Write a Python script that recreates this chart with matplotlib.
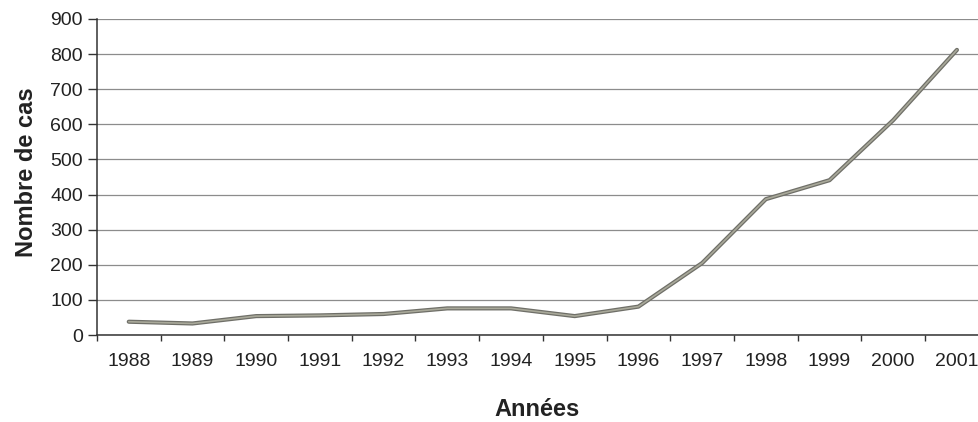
import matplotlib
matplotlib.use('Agg')
import matplotlib.pyplot as plt
from matplotlib.ticker import FixedLocator

plt.rcParams['font.family'] = ['Liberation Sans', 'DejaVu Sans']

# Data
years = ['1988', '1989', '1990', '1991', '1992', '1993', '1994',
         '1995', '1996', '1997', '1998', '1999', '2000', '2001']
cases = [38, 33, 54, 56, 60, 76, 76, 54, 81, 205, 387, 441, 612, 812]
y_ticks = [0, 100, 200, 300, 400, 500, 600, 700, 800, 900]

fig = plt.figure(figsize=(9.79, 4.22), dpi=100)
ax = fig.add_axes([0.099, 0.206, 0.911, 0.749])

x = list(range(len(years)))
# double stroke to mimic the scanned grey line
ax.plot(x, cases, color='#6f6f68', linewidth=3.0, solid_capstyle='round', zorder=3)
ax.plot(x, cases, color='#a9a99a', linewidth=1.2, solid_capstyle='round', zorder=4)

ax.set_xlim(-0.5, len(years) - 0.5)
ax.set_ylim(0, 900)
ax.set_yticks(y_ticks)
ax.yaxis.grid(True, color='#8c8c8c', linewidth=0.9)
ax.set_axisbelow(True)

# category labels at centres, tick marks between categories
ax.xaxis.set_major_locator(FixedLocator([i - 0.5 for i in range(len(years) + 1)]))
ax.xaxis.set_minor_locator(FixedLocator(x))
ax.set_xticklabels([''] * (len(years) + 1))
ax.set_xticklabels(years, minor=True)
ax.tick_params(axis='x', which='major', length=4, width=1, color='#333333', direction='out')
ax.tick_params(axis='x', which='minor', length=0, pad=13, labelsize=14, labelcolor='#222222')
ax.tick_params(axis='y', length=6.5, width=1, color='#333333', labelsize=14,
               labelcolor='#222222', pad=3.6)

for side in ['top', 'right']:
    ax.spines[side].set_visible(False)
ax.spines['left'].set_color('#333333')
ax.spines['bottom'].set_color('#333333')
ax.spines['left'].set_linewidth(1.1)
ax.spines['bottom'].set_linewidth(1.1)

ax.set_ylabel('Nombre de cas', fontsize=17, fontweight='bold', color='#222222')
ax.set_xlabel('Années', fontsize=17, fontweight='bold', color='#222222')
ax.yaxis.set_label_coords(-0.066, 0.516)
ax.xaxis.set_label_coords(0.493, -0.198)

fig.savefig('out.png', dpi=100)
